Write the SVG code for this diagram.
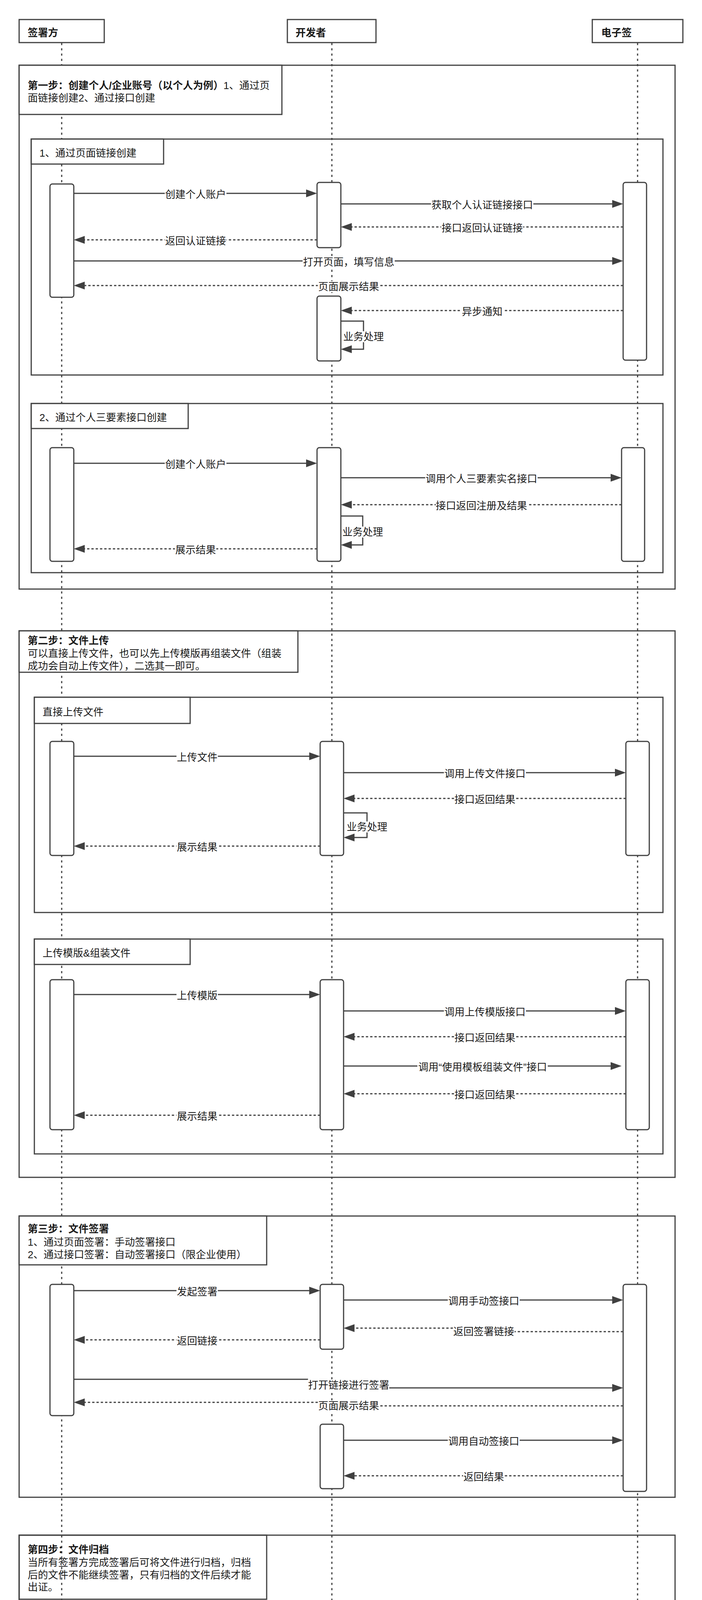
<svg xmlns="http://www.w3.org/2000/svg" width="1798" height="5358" viewBox="0 0 1798 5358">
<style>
.bg{fill:#fff}
.pbox{fill:#fff;stroke:#404040;stroke-width:3}
.life{fill:none;stroke:#404040;stroke-width:3;stroke-dasharray:5.5 8}
.frame{fill:none;stroke:#404040;stroke-width:3}
.tab{fill:#fff;stroke:#404040;stroke-width:3}
.tabn{fill:none;stroke:#404040;stroke-width:3}
.act{fill:#fff;stroke:#404040;stroke-width:3}
.msg{fill:none;stroke:#404040;stroke-width:3;marker-end:url(#ah)}
.ret{fill:none;stroke:#404040;stroke-width:3;stroke-dasharray:6 5;marker-end:url(#ah)}
.t{font-family:"Liberation Sans","Noto Sans CJK SC",sans-serif;font-size:26px;fill:#1a1a1a}
.b{font-weight:bold}
.lbl{font-family:"Liberation Sans","Noto Sans CJK SC",sans-serif;font-size:26px;fill:#1a1a1a;text-anchor:middle}
.lb{fill:#fff}
.foot{font-family:"Liberation Sans","Noto Sans CJK SC",sans-serif;font-size:20px;fill:#a0a0a0;text-anchor:end}
</style>
<defs>
<marker id="ah" markerUnits="userSpaceOnUse" viewBox="0 0 28 20" markerWidth="28" markerHeight="20" refX="0" refY="10" orient="auto"><path d="M0,0 L28,10 L0,20 z" fill="#404040"/></marker>
</defs>
<rect class="bg" x="0" y="0" width="1798" height="5358"/>

<g id="lifelines">
<line class="life" x1="158" y1="110" x2="158" y2="5307"/>
<line class="life" x1="850" y1="110" x2="850" y2="5307"/>
<line class="life" x1="1633" y1="110" x2="1633" y2="5307"/>
</g>

<g id="participants">
<g id="p-signer"><rect class="pbox" x="49" y="50" width="218" height="59"/><text class="t b" x="71" y="93">签署方</text></g>
<g id="p-dev"><rect class="pbox" x="736" y="50" width="227" height="59"/><text class="t b" x="757" y="93">开发者</text></g>
<g id="p-esign"><rect class="pbox" x="1517" y="50" width="232" height="59"/><text class="t b" x="1540" y="93">电子签</text></g>
</g>

<g id="frames">
<g id="sec1">
<rect class="frame" x="49" y="167" width="1680" height="1341"/>
<rect class="tab" x="49" y="167" width="673" height="126"/>
<text class="t" x="71" y="228"><tspan class="b">第一步：创建个人/企业账号（以个人为例）</tspan>1、通过页</text>
<text class="t" x="71" y="260">面链接创建2、通过接口创建</text>
</g>
<g id="sec1a">
<rect class="frame" x="80" y="356" width="1618" height="604"/>
<rect class="tab" x="80" y="356" width="339" height="64"/>
<text class="t" x="101" y="401">1、通过页面链接创建</text>
</g>
<g id="sec1b">
<rect class="frame" x="80" y="1033" width="1618" height="433"/>
<rect class="tab" x="80" y="1033" width="402" height="64"/>
<text class="t" x="101" y="1078">2、通过个人三要素接口创建</text>
</g>
<g id="sec2">
<rect class="frame" x="49" y="1615" width="1680" height="1399"/>
<rect class="tab" x="49" y="1615" width="714" height="106"/>
<text class="t b" x="71" y="1649">第二步：文件上传</text>
<text class="t" x="71" y="1682">可以直接上传文件，也可以先上传模版再组装文件（组装</text>
<text class="t" x="71" y="1714">成功会自动上传文件），二选其一即可。</text>
</g>
<g id="sec2a">
<rect class="frame" x="88" y="1785" width="1610" height="551"/>
<rect class="tab" x="88" y="1785" width="399" height="67"/>
<text class="t" x="109" y="1832">直接上传文件</text>
</g>
<g id="sec2b">
<rect class="frame" x="88" y="2404" width="1610" height="550"/>
<rect class="tab" x="88" y="2404" width="399" height="65"/>
<text class="t" x="109" y="2449">上传模版&amp;组装文件</text>
</g>
<g id="sec3">
<rect class="frame" x="49" y="3113" width="1680" height="720"/>
<rect class="tab" x="49" y="3113" width="634" height="125"/>
<text class="t b" x="71" y="3155">第三步：文件签署</text>
<text class="t" x="71" y="3189">1、通过页面签署：手动签署接口</text>
<text class="t" x="71" y="3221">2、通过接口签署：自动签署接口（限企业使用）</text>
</g>
<g id="sec4">
<rect class="frame" x="49" y="3930" width="1680" height="578"/>
<rect class="tabn" x="49" y="3930" width="634" height="164"/>
<text class="t b" x="71" y="3976">第四步：文件归档</text>
<text class="t" x="71" y="4009">当所有签署方完成签署后可将文件进行归档，归档</text>
<text class="t" x="71" y="4041">后的文件不能继续签署，只有归档的文件后续才能</text>
<text class="t" x="71" y="4072">出证。</text>
</g>
<g id="sec5">
<rect class="frame" x="49" y="4613" width="1680" height="579"/>
<rect class="tab" x="49" y="4613" width="634" height="133"/>
<text class="t b" x="71" y="4660">文件撤销</text>
<text class="t" x="71" y="4693">当没有签署方签署，对接方发现文件有误，可通过</text>
<text class="t" x="71" y="4725">撤销接口撤回文件。已撤销的文件不能继续签署。</text>
</g>
</g>

<g id="activations">
<rect id="a1a-s" class="act" x="128" y="471" width="61" height="290" rx="6"/>
<rect id="a1a-d1" class="act" x="812" y="467" width="61" height="167" rx="6"/>
<rect id="a1a-e" class="act" x="1596" y="467" width="60" height="455" rx="6"/>
<rect id="a1a-d2" class="act" x="812" y="758" width="61" height="166" rx="6"/>
<rect id="a1b-s" class="act" x="128" y="1146" width="61" height="291" rx="6"/>
<rect id="a1b-d" class="act" x="812" y="1146" width="61" height="291" rx="6"/>
<rect id="a1b-e" class="act" x="1592" y="1146" width="59" height="291" rx="6"/>
<rect id="a2a-s" class="act" x="128" y="1898" width="61" height="292" rx="6"/>
<rect id="a2a-d" class="act" x="820" y="1898" width="60" height="292" rx="6"/>
<rect id="a2a-e" class="act" x="1603" y="1898" width="60" height="292" rx="6"/>
<rect id="a2b-s" class="act" x="128" y="2508" width="61" height="384" rx="6"/>
<rect id="a2b-d" class="act" x="820" y="2508" width="60" height="384" rx="6"/>
<rect id="a2b-e" class="act" x="1603" y="2508" width="60" height="384" rx="6"/>
<rect id="a3-s" class="act" x="128" y="3288" width="61" height="336" rx="6"/>
<rect id="a3-d1" class="act" x="820" y="3288" width="60" height="166" rx="6"/>
<rect id="a3-e" class="act" x="1596" y="3288" width="60" height="530" rx="6"/>
<rect id="a3-d2" class="act" x="820" y="3646" width="60" height="165" rx="6"/>
<rect id="a4-d" class="act" x="820" y="4145" width="60" height="297" rx="6"/>
<rect id="a4-e" class="act" x="1603" y="4145" width="60" height="167" rx="6"/>
<rect id="a5-d" class="act" x="820" y="4817" width="60" height="299" rx="6"/>
<rect id="a5-e" class="act" x="1603" y="4817" width="60" height="166" rx="6"/>
</g>

<g id="connectors">
<!-- 1a -->
<path class="msg" d="M189,495 H784"/>
<rect class="lb" x="422" y="484" width="158" height="28"/><text class="lbl" x="501" y="507">创建个人账户</text>
<path class="msg" d="M873,522 H1568"/>
<rect class="lb" x="1104" y="511" width="262" height="28"/><text class="lbl" x="1235" y="534">获取个人认证链接接口</text>
<path class="ret" d="M1596,581 H901"/>
<rect class="lb" x="1130" y="570" width="210" height="28"/><text class="lbl" x="1235" y="593">接口返回认证链接</text>
<path class="ret" d="M812,614 H217"/>
<rect class="lb" x="422" y="603" width="158" height="28"/><text class="lbl" x="501" y="626">返回认证链接</text>
<path class="msg" d="M189,668 H1568"/>
<rect class="lb" x="775" y="657" width="236" height="28"/><text class="lbl" x="893" y="680">打开页面，填写信息</text>
<path class="ret" d="M1596,731 H217"/>
<rect class="lb" x="814" y="720" width="158" height="28"/><text class="lbl" x="893" y="743">页面展示结果</text>
<path class="ret" d="M1596,795 H901"/>
<rect class="lb" x="1183" y="784" width="106" height="28"/><text class="lbl" x="1235" y="807">异步通知</text>
<path class="msg" d="M873,822 H931 V894 H901"/>
<rect class="lb" x="879" y="848" width="104" height="28"/><text class="lbl" x="931" y="871">业务处理</text>
<!-- 1b -->
<path class="msg" d="M189,1186 H784"/>
<rect class="lb" x="422" y="1175" width="158" height="28"/><text class="lbl" x="501" y="1198">创建个人账户</text>
<path class="msg" d="M873,1223 H1564"/>
<rect class="lb" x="1089" y="1212" width="288" height="28"/><text class="lbl" x="1233" y="1235">调用个人三要素实名接口</text>
<path class="ret" d="M1592,1292 H901"/>
<rect class="lb" x="1116" y="1281" width="236" height="28"/><text class="lbl" x="1233" y="1304">接口返回注册及结果</text>
<path class="msg" d="M873,1321 H929 V1395 H901"/>
<rect class="lb" x="877" y="1348" width="104" height="28"/><text class="lbl" x="929" y="1371">业务处理</text>
<path class="ret" d="M812,1405 H217"/>
<rect class="lb" x="448" y="1394" width="106" height="28"/><text class="lbl" x="501" y="1417">展示结果</text>
<!-- 2a -->
<path class="msg" d="M189,1936 H792"/>
<rect class="lb" x="452" y="1925" width="106" height="28"/><text class="lbl" x="505" y="1948">上传文件</text>
<path class="msg" d="M880,1978 H1575"/>
<rect class="lb" x="1137" y="1967" width="210" height="28"/><text class="lbl" x="1242" y="1990">调用上传文件接口</text>
<path class="ret" d="M1603,2044 H908"/>
<rect class="lb" x="1163" y="2033" width="158" height="28"/><text class="lbl" x="1242" y="2056">接口返回结果</text>
<path class="msg" d="M880,2081 H940 V2144 H908"/>
<rect class="lb" x="888" y="2103" width="104" height="28"/><text class="lbl" x="940" y="2126">业务处理</text>
<path class="ret" d="M820,2166 H217"/>
<rect class="lb" x="452" y="2155" width="106" height="28"/><text class="lbl" x="505" y="2178">展示结果</text>
<!-- 2b -->
<path class="msg" d="M189,2546 H792"/>
<rect class="lb" x="452" y="2535" width="106" height="28"/><text class="lbl" x="505" y="2558">上传模版</text>
<path class="msg" d="M880,2588 H1575"/>
<rect class="lb" x="1137" y="2577" width="210" height="28"/><text class="lbl" x="1242" y="2600">调用上传模版接口</text>
<path class="ret" d="M1603,2654 H908"/>
<rect class="lb" x="1163" y="2643" width="158" height="28"/><text class="lbl" x="1242" y="2666">接口返回结果</text>
<path class="msg" d="M880,2729 H1564"/>
<rect class="lb" x="1069" y="2718" width="334" height="28"/><text class="lbl" x="1236" y="2741">调用“使用模板组装文件”接口</text>
<path class="ret" d="M1603,2800 H908"/>
<rect class="lb" x="1163" y="2789" width="158" height="28"/><text class="lbl" x="1242" y="2812">接口返回结果</text>
<path class="ret" d="M820,2855 H217"/>
<rect class="lb" x="452" y="2844" width="106" height="28"/><text class="lbl" x="505" y="2867">展示结果</text>
<!-- 3 -->
<path class="msg" d="M189,3304 H792"/>
<rect class="lb" x="452" y="3293" width="106" height="28"/><text class="lbl" x="505" y="3316">发起签署</text>
<path class="msg" d="M880,3328 H1568"/>
<rect class="lb" x="1147" y="3317" width="184" height="28"/><text class="lbl" x="1239" y="3340">调用手动签接口</text>
<path class="ret" d="M1596,3409 H1317 M1160,3400 H908"/>
<rect class="lb" x="1160" y="3395" width="158" height="28"/><text class="lbl" x="1239" y="3418">返回签署链接</text>
<path class="ret" d="M820,3430 H217"/>
<rect class="lb" x="452" y="3419" width="106" height="28"/><text class="lbl" x="505" y="3442">返回链接</text>
<path class="msg" d="M189,3531 H789 M996,3553 H1568"/>
<rect class="lb" x="788" y="3532" width="209" height="28"/><text class="lbl" x="893" y="3555">打开链接进行签署</text>
<path class="ret" d="M1596,3599 H971 M814,3590 H217"/>
<rect class="lb" x="814" y="3585" width="158" height="28"/><text class="lbl" x="893" y="3608">页面展示结果</text>
<path class="msg" d="M880,3687 H1568"/>
<rect class="lb" x="1147" y="3676" width="184" height="28"/><text class="lbl" x="1239" y="3699">调用自动签接口</text>
<path class="ret" d="M1596,3778 H908"/>
<rect class="lb" x="1186" y="3767" width="106" height="28"/><text class="lbl" x="1239" y="3790">返回结果</text>
<!-- 4 -->
<path class="msg" d="M880,4182 H1575"/>
<rect class="lb" x="1137" y="4171" width="210" height="28"/><text class="lbl" x="1242" y="4194">调用文件归档接口</text>
<path class="ret" d="M1603,4278 H908"/>
<rect class="lb" x="1163" y="4267" width="158" height="28"/><text class="lbl" x="1242" y="4290">接口返回结果</text>
<path class="msg" d="M880,4343 H938 V4415 H908"/>
<rect class="lb" x="886" y="4370" width="104" height="28"/><text class="lbl" x="938" y="4393">业务处理</text>
<!-- 5 -->
<path class="msg" d="M880,4854 H1575"/>
<rect class="lb" x="1137" y="4843" width="210" height="28"/><text class="lbl" x="1242" y="4866">调用文件撤销接口</text>
<path class="ret" d="M1603,4950 H908"/>
<rect class="lb" x="1163" y="4939" width="158" height="28"/><text class="lbl" x="1242" y="4962">接口返回结果</text>
<path class="msg" d="M880,5015 H938 V5088 H908"/>
<rect class="lb" x="886" y="5041" width="104" height="28"/><text class="lbl" x="938" y="5064">业务处理</text>
</g>

<text class="foot" x="1784" y="5346">CSDN @cybozu开发者</text>
</svg>
